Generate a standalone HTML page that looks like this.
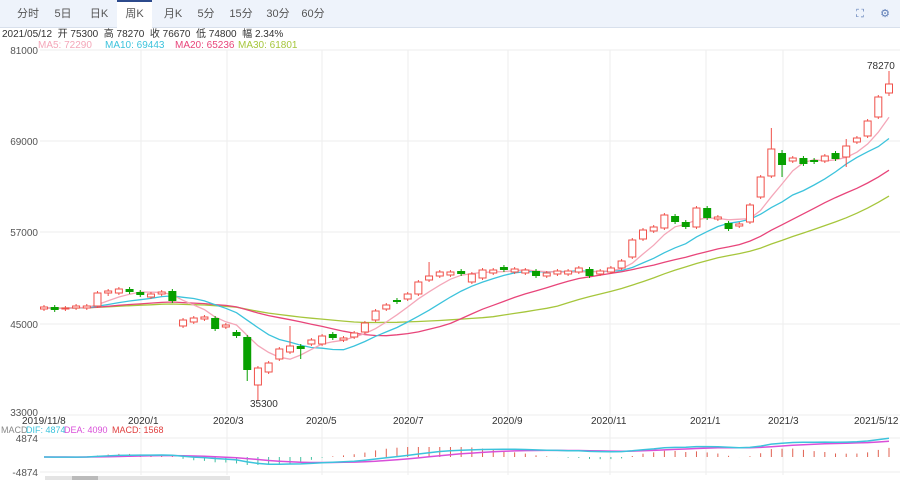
<!DOCTYPE html>
<html><head><meta charset="utf-8"><style>
body{margin:0;width:900px;height:480px;background:#fff;font-family:"Liberation Sans","Noto Sans CJK SC",sans-serif;overflow:hidden;position:relative}
.tabs{position:absolute;left:0;top:0;width:900px;height:27px;background:#eef3fb;border-bottom:1px solid #d8e0ec}
.tab{position:absolute;top:0;height:27px;line-height:28px;font-size:11px;color:#555;text-align:center;white-space:nowrap;width:36px}
.sel{background:#fff;border-top:2px solid #2c4a8c;height:26px;line-height:25px;width:35px}
.t{position:absolute;font-size:10px;line-height:11px;white-space:nowrap}
.m{font-size:9px}
</style></head><body>
<div class="tabs">
<div class="tab" style="left:10px">分时</div>
<div class="tab" style="left:45px">5日</div>
<div class="tab" style="left:81px">日K</div>
<div class="tab sel" style="left:117px">周K</div>
<div class="tab" style="left:155px">月K</div>
<div class="tab" style="left:188px">5分</div>
<div class="tab" style="left:223px">15分</div>
<div class="tab" style="left:260px">30分</div>
<div class="tab" style="left:295px">60分</div>
<div class="tab" style="left:848px;width:24px;color:#5b7bb5">⛶</div>
<div class="tab" style="left:873px;width:24px;color:#5b7bb5">⚙</div>
</div>
<div class="t" style="left:2px;top:29px;color:#333">2021/05/12 &nbsp;开 75300 &nbsp;高 78270 &nbsp;收 76670 &nbsp;低 74800 &nbsp;幅 2.34%</div>
<div class="t" style="left:38px;top:40px;color:#f4a7b9">MA5: 72290</div>
<div class="t" style="left:105px;top:40px;color:#3cc3dc">MA10: 69443</div>
<div class="t" style="left:175px;top:40px;color:#e8457a">MA20: 65236</div>
<div class="t" style="left:238px;top:40px;color:#a6c63c">MA30: 61801</div>
<div class="t m" style="left:1px;top:425px;color:#888">MACD</div>
<div class="t m" style="left:26px;top:425px;color:#3cc3dc">DIF: 4874</div>
<div class="t m" style="left:64px;top:425px;color:#d94fd9">DEA: 4090</div>
<div class="t m" style="left:112px;top:425px;color:#e04040">MACD: 1568</div>
<svg id="s" width="900" height="480" style="position:absolute;left:0;top:0"></svg>
<script>
const C=[
[307,309,1],[307,310,0],[308,309,1],[306,308,1],[306,308,1],[293,306,1],[291,293,1,289,296],[289,293,1],[289,292,0],[292,295,0],[294,297,1],[292,294,1],[291,301,0],
[320,326,1],[318,322,1],[317,319,1],[318,329,0],[325,327,1],[332,336,0],[337,370,0,335,381],[368,385,1,366,401],[363,372,1],[349,359,1],[346,352,1,326,354],[346,349,0,344,359],[340,344,1],[336,344,1],[334,338,0],[338,340,1],[333,337,1],[323,332,1],[311,320,1],[305,309,1],[300,302,0],[294,299,1],[282,294,1],
[276,280,1,262,282],[272,276,1],[272,275,1],[271,274,0],[274,282,1],[270,278,1],[270,273,1],[267,270,0],[269,272,1],[270,273,1],[271,276,0],[273,276,1],[271,274,1],[271,274,1],[268,272,1],[269,276,0],[271,274,1],[268,272,1],[261,268,1],
[240,257,1],[230,239,1],[227,231,1],[215,228,1],[216,222,0],[222,227,0],[208,227,1],[208,218,0],[217,219,1],[223,229,0],[224,226,1],[205,222,1],[177,197,1],[149,176,1,128,178],[153,165,0,150,177],[158,161,1],[158,164,0],[160,162,0],[156,161,1],[153,159,0],[146,157,1,139,167],[138,142,1],[121,136,1],[97,117,1],[84,93,1,71,96]];
const N=C.length,x0=44,x1=889,dx=(x1-x0)/(N-1);
let h='';
[50,141,232,324,415].forEach(y=>h+=`<line x1="40" x2="900" y1="${y}" y2="${y}" stroke="#eee"/>`);
[141,227,322,408,508,610,706,783].forEach(x=>h+=`<line x1="${x}" x2="${x}" y1="50" y2="475" stroke="#eee"/>`);
h+=`<line x1="40" x2="900" y1="438" y2="438" stroke="#eee"/><line x1="40" x2="900" y1="472" y2="472" stroke="#eee"/>`;
[['81000',50],['69000',141],['57000',232],['45000',324],['33000',412]].forEach(a=>h+=`<text x="38" y="${a[1]+4}" font-size="10" fill="#555" text-anchor="end">${a[0]}</text>`);
[['2019/11/8',22],['2020/1',128],['2020/3',213],['2020/5',306],['2020/7',393],['2020/9',492],['2020/11',591],['2021/1',690],['2021/3',768],['2021/5/12',854]].forEach(a=>h+=`<text x="${a[1]}" y="424" font-size="10" fill="#333">${a[0]}</text>`);
h+=`<text x="38" y="442" font-size="10" fill="#555" text-anchor="end">4874</text><text x="38" y="476" font-size="10" fill="#555" text-anchor="end">-4874</text>`;
const close=C.map(c=>c[2]?c[0]:c[1]);
function ma(n){let p=[];for(let i=0;i<N;i++){let s=0;for(let k=i-n+1;k<=i;k++)s+=k<0?308:close[k];p.push(`${(x0+i*dx).toFixed(1)},${(s/n).toFixed(1)}`)}return p.join(' ')}
[[30,'#a6c63c'],[20,'#e8457a'],[10,'#3cc3dc'],[5,'#f4a7b9']].forEach(a=>h+=`<polyline points="${ma(a[0])}" fill="none" stroke="${a[1]}" stroke-width="1.3"/>`);
C.forEach((c,i)=>{const x=x0+i*dx,hi=c[3]||c[0]-2,lo=c[4]||c[1]+2,col=c[2]?'#f0504a':'#08a000';
h+=`<line x1="${x}" x2="${x}" y1="${hi}" y2="${lo}" stroke="${col}"/>`;
h+=c[2]?`<rect x="${x-3.5}" y="${c[0]}" width="7" height="${Math.max(c[1]-c[0],1)}" fill="#fff" stroke="${col}"/>`:`<rect x="${x-4}" y="${c[0]}" width="8" height="${Math.max(c[1]-c[0],1)}" fill="${col}"/>`});
h+=`<text x="867" y="69" font-size="10" fill="#333">78270</text><text x="250" y="407" font-size="10" fill="#333">35300</text>`;
const pr=close.map(y=>33000+(415-y)*12000/91);
let e12=pr[0],e26=pr[0],dea=0,D=[],E=[],M=[];
pr.forEach(p=>{e12=e12+(p-e12)*2/13;e26=e26+(p-e26)*2/27;const d=e12-e26;dea=dea+(d-dea)*0.2;D.push(d);E.push(dea);M.push(2*(d-dea))});
const sc=19/4874,z=457;
M.forEach((m,i)=>{const x=x0+i*dx;let v=Math.max(-8,Math.min(10,m*sc*1.5));h+=`<line x1="${x}" x2="${x}" y1="${z}" y2="${z-v}" stroke="${m>=0?'#e06050':'#40c0a0'}"/>`});
const pl=a=>a.map((v,i)=>`${(x0+i*dx).toFixed(1)},${(z-v*sc).toFixed(1)}`).join(' ');
h+=`<polyline points="${pl(E)}" fill="none" stroke="#d94fd9" stroke-width="1.5"/><polyline points="${pl(D)}" fill="none" stroke="#3cc3dc" stroke-width="1.5"/>`;
h+=`<rect x="45" y="476" width="185" height="4" fill="#e4e4e4"/><rect x="72" y="476" width="26" height="4" fill="#bbb"/>`;
document.getElementById('s').innerHTML=h;
</script>
</body></html>
